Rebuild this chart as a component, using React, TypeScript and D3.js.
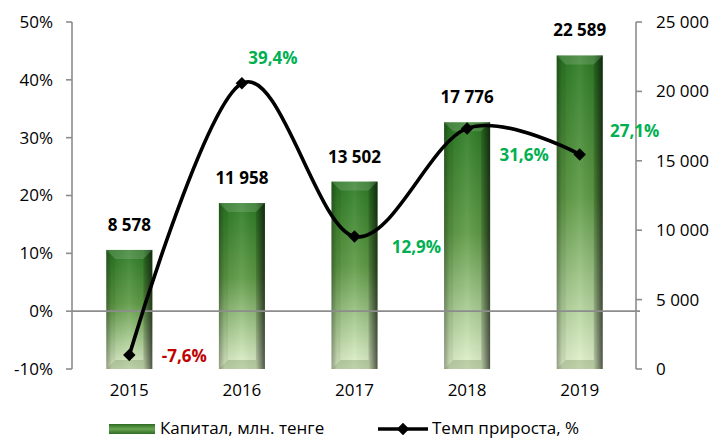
import React from 'react';
import * as d3 from 'd3';

const years = ['2015', '2016', '2017', '2018', '2019'];
const capital = [8578, 11958, 13502, 17776, 22589];
const growth = [-7.6, 39.4, 12.9, 31.6, 27.1];
const leftTicks = [-10, 0, 10, 20, 30, 40, 50];
const rightTicks = [0, 5000, 10000, 15000, 20000, 25000];
const growthLabelOffsets = [[55, 7], [31, -19], [62, 16], [57, 33], [55, -17]];
const seriesNames = ['Капитал, млн. тенге', 'Темп прироста, %'];

const W = 719, H = 439;
const FONT = '"Open Sans", sans-serif';
const AXIS = '#8c8c8c';

export default function App() {
  const x = d3.scaleBand<string>().domain(years).range([73, 636]);
  const yL = d3.scaleLinear().domain([-10, 50]).range([369, 22]);
  const yR = d3.scaleLinear().domain([0, 25000]).range([369, 22]);
  const fmtNum = (v: number) => d3.format(',')(v).replace(/,/g, ' ');
  const fmtPct = (v: number) => v.toFixed(1).replace('.', ',') + '%';
  const cx = (i: number) => (x(years[i]) as number) + x.bandwidth() / 2;
  const line = d3.line<number>()
    .x((d, i) => cx(i))
    .y(d => yL(d))
    .curve(d3.curveCardinal.tension(0));
  const bw = 46;
  const bev = 9;
  const diamond = d3.symbol(d3.symbolSquare, 78)();

  return (
    <svg width={W} height={H} style={{ position: 'absolute', left: 0, top: 0, fontFamily: FONT }}>
      <defs>
        <linearGradient id="barV" x1="0" y1="0" x2="0" y2="1">
          <stop offset="0" stopColor="#2c7a25" />
          <stop offset="0.45" stopColor="#5e9a45" />
          <stop offset="1" stopColor="#e4f3cf" />
        </linearGradient>
        <linearGradient id="barH" x1="0" y1="0" x2="1" y2="0">
          <stop offset="0" stopColor="#000" stopOpacity="0.3" />
          <stop offset="0.12" stopColor="#000" stopOpacity="0.05" />
          <stop offset="0.5" stopColor="#fff" stopOpacity="0.08" />
          <stop offset="0.8" stopColor="#000" stopOpacity="0.05" />
          <stop offset="1" stopColor="#000" stopOpacity="0.6" />
        </linearGradient>
        <linearGradient id="legG" x1="0" y1="0" x2="0" y2="1">
          <stop offset="0" stopColor="#2c6b22" />
          <stop offset="0.5" stopColor="#6aa552" />
          <stop offset="1" stopColor="#2c6b22" />
        </linearGradient>
      </defs>

      {/* bars */}
      {capital.map((v, i) => {
        const x0 = cx(i) - bw / 2;
        const y0 = yR(v);
        const y1 = yR(0);
        const h = y1 - y0;
        return (
          <g key={'b' + i}>
            <rect x={x0} y={y0} width={bw} height={h} fill="url(#barV)" />
            <rect x={x0} y={y0} width={bw} height={h} fill="url(#barH)" />
            <polygon points={`${x0},${y0} ${x0 + bw},${y0} ${x0 + bw - bev},${y0 + bev} ${x0 + bev},${y0 + bev}`} fill="#fff" opacity={0.14} />
            <polygon points={`${x0},${y1} ${x0 + bw},${y1} ${x0 + bw - bev},${y1 - bev} ${x0 + bev},${y1 - bev}`} fill="#3d5a20" opacity={0.22} />
            <polygon points={`${x0 + bw},${y0} ${x0 + bw},${y1} ${x0 + bw - bev},${y1 - bev} ${x0 + bw - bev},${y0 + bev}`} fill="#000" opacity={0.12} />
            <polygon points={`${x0},${y0} ${x0},${y1} ${x0 + bev},${y1 - bev} ${x0 + bev},${y0 + bev}`} fill="#000" opacity={0.06} />
          </g>
        );
      })}

      {/* zero line */}
      <line x1={72} x2={640} y1={yL(0)} y2={yL(0)} stroke={AXIS} strokeWidth={1.6} />

      {/* left axis */}
      <line x1={72} x2={72} y1={yL(50)} y2={yL(-10)} stroke={AXIS} strokeWidth={1.6} />
      {leftTicks.map(t => (
        <g key={'l' + t}>
          <line x1={66} x2={72} y1={yL(t)} y2={yL(t)} stroke={AXIS} strokeWidth={1.6} />
          <text x={53} y={yL(t)} dy="0.35em" textAnchor="end" fontSize={17} fill="#000">{t + '%'}</text>
        </g>
      ))}

      {/* right axis */}
      <line x1={636} x2={636} y1={yR(25000)} y2={yR(0)} stroke={AXIS} strokeWidth={1.6} />
      {rightTicks.map(t => (
        <g key={'r' + t}>
          <line x1={636} x2={642} y1={yR(t)} y2={yR(t)} stroke={AXIS} strokeWidth={1.6} />
          <text x={656} y={yR(t)} dy="0.35em" textAnchor="start" fontSize={17} fill="#000">{fmtNum(t)}</text>
        </g>
      ))}

      {/* x labels */}
      {years.map((yv, i) => (
        <text key={'x' + yv} x={cx(i)} y={396} textAnchor="middle" fontSize={17} fill="#000">{yv}</text>
      ))}

      {/* bar labels */}
      {capital.map((v, i) => (
        <text key={'bl' + i} x={cx(i)} y={yR(v) - 19} textAnchor="middle" fontSize={17} fontWeight="bold" fill="#000">{fmtNum(v)}</text>
      ))}

      {/* line */}
      <path d={line(growth) || ''} fill="none" stroke="#000" strokeWidth={3.6} />
      {growth.map((v, i) => (
        <path key={'m' + i} d={diamond || ''} transform={`translate(${cx(i)},${yL(v)}) rotate(45)`} fill="#000" />
      ))}
      {growth.map((v, i) => (
        <text key={'gl' + i} x={cx(i) + growthLabelOffsets[i][0]} y={yL(v) + growthLabelOffsets[i][1]}
          textAnchor="middle" fontSize={17} fontWeight="bold" fill={v < 0 ? '#c00000' : '#00b050'}>{fmtPct(v)}</text>
      ))}

      {/* legend */}
      <g>
        <rect x={109} y={424} width={46} height={10} fill="url(#legG)" />
        <text x={160} y={434} fontSize={17} fill="#000">{seriesNames[0]}</text>
        <line x1={378} x2={428} y1={429} y2={429} stroke="#000" strokeWidth={3.6} />
        <path d={diamond || ''} transform="translate(403,429) rotate(45)" fill="#000" />
        <text x={432} y={434} fontSize={17} fill="#000">{seriesNames[1]}</text>
      </g>
    </svg>
  );
}
